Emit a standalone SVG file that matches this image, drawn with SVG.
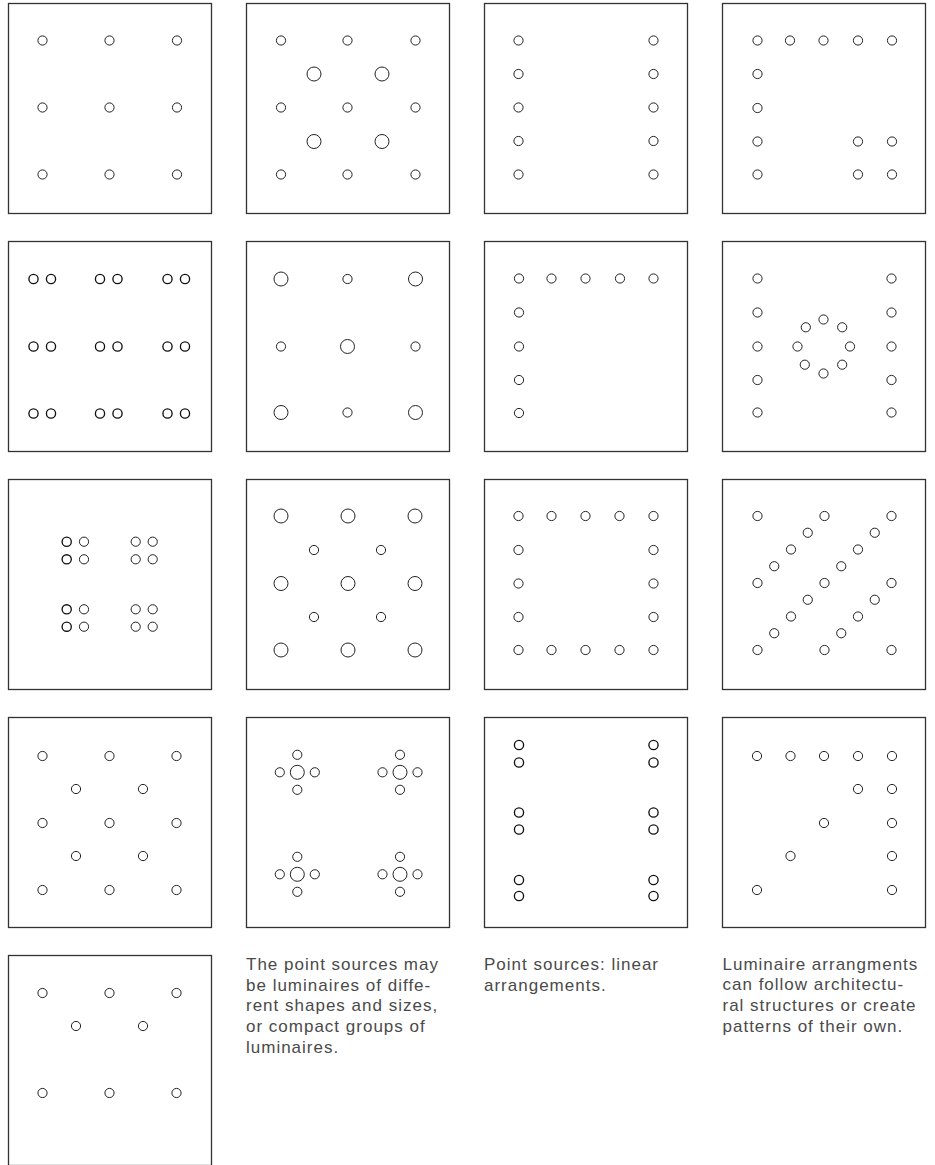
<svg xmlns="http://www.w3.org/2000/svg" width="935" height="1165" viewBox="0 0 935 1165">
<style>
rect.box{fill:#fff;stroke:#333;stroke-width:1.3}
circle{fill:none;stroke:#222;stroke-width:1;r:4.6px}
circle.l{r:7px}
circle.b{stroke-width:1.35;stroke:#111}
text{font-family:"Liberation Sans",Arial,sans-serif;font-size:17px;fill:#4a4a4a;letter-spacing:1px}
</style>
<rect width="935" height="1165" fill="#fff"/>

<g id="b1" transform="translate(8.5,3.5)">
<rect class="box" width="203" height="210"/>
<circle cx="34" cy="37" r="4.6"/><circle cx="101" cy="37" r="4.6"/><circle cx="168.5" cy="37" r="4.6"/>
<circle cx="34" cy="104" r="4.6"/><circle cx="101" cy="104" r="4.6"/><circle cx="168.5" cy="104" r="4.6"/>
<circle cx="34" cy="171" r="4.6"/><circle cx="101" cy="171" r="4.6"/><circle cx="168.5" cy="171" r="4.6"/>
</g>

<g id="b2" transform="translate(246.5,3.5)">
<rect class="box" width="203" height="210"/>
<circle cx="34.5" cy="37" r="4.6"/><circle cx="101" cy="37" r="4.6"/><circle cx="169" cy="37" r="4.6"/>
<circle cx="34.5" cy="104" r="4.6"/><circle cx="101" cy="104" r="4.6"/><circle cx="169" cy="104" r="4.6"/>
<circle cx="34.5" cy="171" r="4.6"/><circle cx="101" cy="171" r="4.6"/><circle cx="169" cy="171" r="4.6"/>
<circle class="l" cx="67.5" cy="70.5" r="7"/><circle class="l" cx="135.5" cy="70.5" r="7"/>
<circle class="l" cx="67.5" cy="138" r="7"/><circle class="l" cx="135.5" cy="138" r="7"/>
</g>

<g id="b3" transform="translate(484.5,3.5)">
<rect class="box" width="203" height="210"/>
<circle cx="34" cy="37" r="4.6"/><circle cx="34" cy="70.5" r="4.6"/><circle cx="34" cy="104" r="4.6"/><circle cx="34" cy="137.5" r="4.6"/><circle cx="34" cy="171" r="4.6"/>
<circle cx="169" cy="37" r="4.6"/><circle cx="169" cy="70.5" r="4.6"/><circle cx="169" cy="104" r="4.6"/><circle cx="169" cy="137.5" r="4.6"/><circle cx="169" cy="171" r="4.6"/>
</g>

<g id="b4" transform="translate(722.5,3.5)">
<rect class="box" width="203" height="210"/>
<circle cx="35" cy="37" r="4.6"/><circle cx="67.5" cy="37" r="4.6"/><circle cx="101" cy="37" r="4.6"/><circle cx="135.5" cy="37" r="4.6"/><circle cx="169.5" cy="37" r="4.6"/>
<circle cx="35" cy="70.5" r="4.6"/><circle cx="35" cy="104.5" r="4.6"/><circle cx="35" cy="138" r="4.6"/><circle cx="35" cy="171" r="4.6"/>
<circle cx="135.5" cy="138" r="4.6"/><circle cx="169.5" cy="138" r="4.6"/>
<circle cx="135.5" cy="171" r="4.6"/><circle cx="169.5" cy="171" r="4.6"/>
</g>

<g id="b5" transform="translate(8.5,241.5)">
<rect class="box" width="203" height="210"/>
<circle class="b" cx="25" cy="37.5" r="4.6"/><circle class="b" cx="42.5" cy="37.5" r="4.6"/>
<circle class="b" cx="91.5" cy="37.5" r="4.6"/><circle class="b" cx="109" cy="37.5" r="4.6"/>
<circle class="b" cx="159" cy="37.5" r="4.6"/><circle class="b" cx="176.5" cy="37.5" r="4.6"/>
<circle class="b" cx="25" cy="105" r="4.6"/><circle class="b" cx="42.5" cy="105" r="4.6"/>
<circle class="b" cx="91.5" cy="105" r="4.6"/><circle class="b" cx="109" cy="105" r="4.6"/>
<circle class="b" cx="159" cy="105" r="4.6"/><circle class="b" cx="176.5" cy="105" r="4.6"/>
<circle class="b" cx="25" cy="172" r="4.6"/><circle class="b" cx="42.5" cy="172" r="4.6"/>
<circle class="b" cx="91.5" cy="172" r="4.6"/><circle class="b" cx="109" cy="172" r="4.6"/>
<circle class="b" cx="159" cy="172" r="4.6"/><circle class="b" cx="176.5" cy="172" r="4.6"/>
</g>

<g id="b6" transform="translate(246.5,241.5)">
<rect class="box" width="203" height="210"/>
<circle class="l" cx="34.5" cy="37.5" r="7"/><circle cx="101" cy="37.5" r="4.6"/><circle class="l" cx="169" cy="37.5" r="7"/>
<circle cx="34.5" cy="105" r="4.6"/><circle class="l" cx="101" cy="105" r="7"/><circle cx="169" cy="105" r="4.6"/>
<circle class="l" cx="34.5" cy="171" r="7"/><circle cx="101" cy="171" r="4.6"/><circle class="l" cx="169" cy="171" r="7"/>
</g>

<g id="b7" transform="translate(484.5,241.5)">
<rect class="box" width="203" height="210"/>
<circle cx="34.5" cy="37" r="4.6"/><circle cx="67" cy="37" r="4.6"/><circle cx="101" cy="37" r="4.6"/><circle cx="135.5" cy="37" r="4.6"/><circle cx="169" cy="37" r="4.6"/>
<circle cx="34.5" cy="71" r="4.6"/><circle cx="34.5" cy="105" r="4.6"/><circle cx="34.5" cy="138.5" r="4.6"/><circle cx="34.5" cy="171.5" r="4.6"/>
</g>

<g id="b8" transform="translate(722.5,241.5)">
<rect class="box" width="203" height="210"/>
<circle cx="35" cy="37" r="4.6"/><circle cx="35" cy="71" r="4.6"/><circle cx="35" cy="105" r="4.6"/><circle cx="35" cy="138.5" r="4.6"/><circle cx="35" cy="171" r="4.6"/>
<circle cx="169" cy="37" r="4.6"/><circle cx="169" cy="71" r="4.6"/><circle cx="169" cy="105" r="4.6"/><circle cx="169" cy="138.5" r="4.6"/><circle cx="169" cy="171" r="4.6"/>
<circle cx="101" cy="78" r="4.6"/><circle cx="119.7" cy="85.8" r="4.6"/><circle cx="127.5" cy="105" r="4.6"/><circle cx="119.7" cy="123.2" r="4.6"/>
<circle cx="101" cy="132" r="4.6"/><circle cx="82.3" cy="123.2" r="4.6"/><circle cx="75" cy="105" r="4.6"/><circle cx="83.3" cy="85.8" r="4.6"/>
</g>

<g id="b9" transform="translate(8.5,479.5)">
<rect class="box" width="203" height="210"/>
<circle class="b" cx="58.2" cy="62.2" r="4.6"/><circle cx="75.5" cy="62.2" r="4.6"/>
<circle class="b" cx="58.2" cy="79.8" r="4.6"/><circle cx="75.5" cy="79.8" r="4.6"/>
<circle cx="127.2" cy="62.2" r="4.6"/><circle cx="144.2" cy="62.2" r="4.6"/>
<circle cx="127.2" cy="79.8" r="4.6"/><circle cx="144.2" cy="79.8" r="4.6"/>
<circle class="b" cx="58.2" cy="129.8" r="4.6"/><circle cx="75.5" cy="129.8" r="4.6"/>
<circle class="b" cx="58.2" cy="147.2" r="4.6"/><circle cx="75.5" cy="147.2" r="4.6"/>
<circle cx="127.2" cy="129.8" r="4.6"/><circle cx="144.2" cy="129.8" r="4.6"/>
<circle cx="127.2" cy="147.2" r="4.6"/><circle cx="144.2" cy="147.2" r="4.6"/>
</g>

<g id="b10" transform="translate(246.5,479.5)">
<rect class="box" width="203" height="210"/>
<circle class="l" cx="34.5" cy="36.5" r="7"/><circle class="l" cx="101.5" cy="36.5" r="7"/><circle class="l" cx="168.5" cy="36.5" r="7"/>
<circle class="l" cx="34.5" cy="104" r="7"/><circle class="l" cx="101.5" cy="104" r="7"/><circle class="l" cx="168.5" cy="104" r="7"/>
<circle class="l" cx="34.5" cy="170.5" r="7"/><circle class="l" cx="101.5" cy="170.5" r="7"/><circle class="l" cx="168.5" cy="170.5" r="7"/>
<circle cx="67.5" cy="70.5" r="4.6"/><circle cx="134.5" cy="70.5" r="4.6"/>
<circle cx="67.5" cy="137.5" r="4.6"/><circle cx="134.5" cy="137.5" r="4.6"/>
</g>

<g id="b11" transform="translate(484.5,479.5)">
<rect class="box" width="203" height="210"/>
<circle cx="34" cy="36.5" r="4.6"/><circle cx="67" cy="36.5" r="4.6"/><circle cx="101" cy="36.5" r="4.6"/><circle cx="135" cy="36.5" r="4.6"/><circle cx="169" cy="36.5" r="4.6"/>
<circle cx="34" cy="70.5" r="4.6"/><circle cx="169" cy="70.5" r="4.6"/>
<circle cx="34" cy="104" r="4.6"/><circle cx="169" cy="104" r="4.6"/>
<circle cx="34" cy="137.5" r="4.6"/><circle cx="169" cy="137.5" r="4.6"/>
<circle cx="34" cy="170.5" r="4.6"/><circle cx="67" cy="170.5" r="4.6"/><circle cx="101" cy="170.5" r="4.6"/><circle cx="135" cy="170.5" r="4.6"/><circle cx="169" cy="170.5" r="4.6"/>
</g>

<g id="b12" transform="translate(722.5,479.5)">
<rect class="box" width="203" height="210"/>
<circle cx="35" cy="36.5" r="4.6"/><circle cx="169" cy="170.5" r="4.6"/>
<circle cx="35" cy="103.5" r="4.6"/><circle cx="51.75" cy="86.75" r="4.6"/><circle cx="68.5" cy="70" r="4.6"/><circle cx="85.25" cy="53.25" r="4.6"/><circle cx="102" cy="36.5" r="4.6"/>
<circle cx="35" cy="170.5" r="4.6"/><circle cx="51.75" cy="153.75" r="4.6"/><circle cx="68.5" cy="137" r="4.6"/><circle cx="85.25" cy="120.25" r="4.6"/><circle cx="102" cy="103.5" r="4.6"/><circle cx="118.75" cy="86.75" r="4.6"/><circle cx="135.5" cy="70" r="4.6"/><circle cx="152.25" cy="53.25" r="4.6"/><circle cx="169" cy="36.5" r="4.6"/>
<circle cx="102" cy="170.5" r="4.6"/><circle cx="118.75" cy="153.75" r="4.6"/><circle cx="135.5" cy="137" r="4.6"/><circle cx="152.25" cy="120.25" r="4.6"/><circle cx="169" cy="103.5" r="4.6"/>
</g>

<g id="b13" transform="translate(8.5,717.5)">
<rect class="box" width="203" height="210"/>
<circle cx="34" cy="38.5" r="4.6"/><circle cx="101" cy="38.5" r="4.6"/><circle cx="168" cy="38.5" r="4.6"/>
<circle cx="67.5" cy="71.5" r="4.6"/><circle cx="134.5" cy="71.5" r="4.6"/>
<circle cx="34" cy="105.5" r="4.6"/><circle cx="101" cy="105.5" r="4.6"/><circle cx="168" cy="105.5" r="4.6"/>
<circle cx="67.5" cy="138.5" r="4.6"/><circle cx="134.5" cy="138.5" r="4.6"/>
<circle cx="34" cy="172.5" r="4.6"/><circle cx="101" cy="172.5" r="4.6"/><circle cx="168" cy="172.5" r="4.6"/>
</g>

<g id="b14" transform="translate(246.5,717.5)">
<rect class="box" width="203" height="210"/>
<g transform="translate(50.8,54.8)"><circle class="l" r="7"/><circle cy="-17.5" r="4.6"/><circle cy="17.5" r="4.6"/><circle cx="-17.5" r="4.6"/><circle cx="17.5" r="4.6"/></g>
<g transform="translate(153.5,54.8)"><circle class="l" r="7"/><circle cy="-17.5" r="4.6"/><circle cy="17.5" r="4.6"/><circle cx="-17.5" r="4.6"/><circle cx="17.5" r="4.6"/></g>
<g transform="translate(50.8,156.8)"><circle class="l" r="7"/><circle cy="-17.5" r="4.6"/><circle cy="17.5" r="4.6"/><circle cx="-17.5" r="4.6"/><circle cx="17.5" r="4.6"/></g>
<g transform="translate(153.5,156.8)"><circle class="l" r="7"/><circle cy="-17.5" r="4.6"/><circle cy="17.5" r="4.6"/><circle cx="-17.5" r="4.6"/><circle cx="17.5" r="4.6"/></g>
</g>

<g id="b15" transform="translate(484.5,717.5)">
<rect class="box" width="203" height="210"/>
<circle class="b" cx="34.5" cy="27.5" r="4.6"/><circle class="b" cx="34.5" cy="45" r="4.6"/>
<circle class="b" cx="34.5" cy="95" r="4.6"/><circle class="b" cx="34.5" cy="112" r="4.6"/>
<circle class="b" cx="34.5" cy="162.5" r="4.6"/><circle class="b" cx="34.5" cy="178.5" r="4.6"/>
<circle class="b" cx="169" cy="27.5" r="4.6"/><circle class="b" cx="169" cy="45" r="4.6"/>
<circle class="b" cx="169" cy="95" r="4.6"/><circle class="b" cx="169" cy="112" r="4.6"/>
<circle class="b" cx="169" cy="162.5" r="4.6"/><circle class="b" cx="169" cy="178.5" r="4.6"/>
</g>

<g id="b16" transform="translate(722.5,717.5)">
<rect class="box" width="203" height="210"/>
<circle cx="34.5" cy="38.5" r="4.6"/><circle cx="68" cy="38.5" r="4.6"/><circle cx="101.5" cy="38.5" r="4.6"/><circle cx="135.5" cy="38.5" r="4.6"/><circle cx="169.5" cy="38.5" r="4.6"/>
<circle cx="135.5" cy="71.5" r="4.6"/><circle cx="169.5" cy="71.5" r="4.6"/>
<circle cx="101.5" cy="105.5" r="4.6"/><circle cx="169.5" cy="105.5" r="4.6"/>
<circle cx="68" cy="138.5" r="4.6"/><circle cx="169.5" cy="138.5" r="4.6"/>
<circle cx="34.5" cy="172.5" r="4.6"/><circle cx="169.5" cy="172.5" r="4.6"/>
</g>

<g id="b17" transform="translate(8.5,955.5)">
<rect class="box" width="203" height="210"/>
<circle cx="34" cy="37.5" r="4.6"/><circle cx="101" cy="37.5" r="4.6"/><circle cx="168" cy="37.5" r="4.6"/>
<circle cx="67.5" cy="70.5" r="4.6"/><circle cx="134.5" cy="70.5" r="4.6"/>
<circle cx="34" cy="137.5" r="4.6"/><circle cx="101" cy="137.5" r="4.6"/><circle cx="168" cy="137.5" r="4.6"/>
</g>

<g id="caption1">
<text x="246" y="970">The point sources may</text>
<text x="246" y="990.7">be luminaires of diffe-</text>
<text x="246" y="1011.4">rent shapes and sizes,</text>
<text x="246" y="1032.1">or compact groups of</text>
<text x="246" y="1052.8">luminaires.</text>
</g>
<g id="caption2">
<text x="484" y="970">Point sources: linear</text>
<text x="484" y="990.7">arrangements.</text>
</g>
<g id="caption3">
<text x="722.5" y="969.5">Luminaire arrangments</text>
<text x="722.5" y="990.2">can follow architectu-</text>
<text x="722.5" y="1010.9">ral structures or create</text>
<text x="722.5" y="1031.6">patterns of their own.</text>
</g>
<g id="connectors"></g>
</svg>
